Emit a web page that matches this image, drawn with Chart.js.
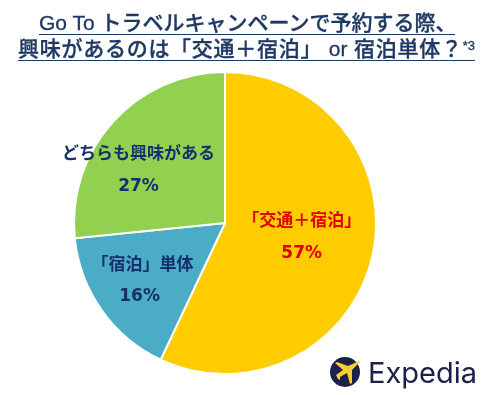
<!DOCTYPE html>
<html lang="ja">
<head>
<meta charset="utf-8">
<script src="https://cdn.jsdelivr.net/npm/chart.js@4"></script>
<style>
  html, body { margin: 0; padding: 0; background: #fff; }
  #wrap { position: relative; width: 493px; height: 395px; overflow: hidden; }
  #pie { position: absolute; left: 0; top: 0; }
  .title {
    position: absolute; white-space: nowrap; color: #1f3864;
    font: 500 21px "Liberation Sans", "Noto Sans CJK JP", sans-serif; line-height: 23px;
    border-bottom: 1px solid #1f3864; text-align-last: justify;
    -webkit-text-stroke: 0.3px #1f3864;
  }
  #title1 { left: 39px; top: 11px; width: 416px; }
  #title2 { left: 18px; top: 37px; width: 457px; }
  #title2 sup { font-size: 13px; line-height: 0; vertical-align: 6px; }
  #logo { position: absolute; left: 328px; top: 354px; }
</style>
</head>
<body>
<div id="wrap">
  <canvas id="pie" width="493" height="395"></canvas>
  <div class="title" id="title1">Go To トラベルキャンペーンで予約する際、</div>
  <div class="title" id="title2">興味があるのは「交通＋宿泊」 or 宿泊単体？<sup>*3</sup></div>
  <svg id="logo" width="160" height="38" viewBox="0 0 160 38">
    <circle cx="17" cy="18" r="15" fill="#1b2149"/>
    <path d="M7 9 L9 8 L20 12 L31 7 L32 8 L24 16 L24 29 L22 30 L19 19 L12 23 L12 26 L10 25 L8 21 L15 16 Z" fill="#fbcc33"/>
    <text x="40" y="29" font-family="Inter, sans-serif" font-size="29" fill="#1b2149">Expedia</text>
  </svg>
</div>
<script>
const categories = ["「交通＋宿泊」", "「宿泊」単体", "どちらも興味がある"];
const seriesValues = [57, 16.4, 26.6];
const percentLabels = ["57%", "16%", "27%"];
const sliceColors = ["#ffcc00", "#4bacc6", "#92d050"];
const labelColors = ["#e00000", "#17306b", "#17306b"];
const labelOffsets = [[3, -20], [-6, -14], [-17, -8]]; // px from the spot picked below
const percentOffsets = [0, -3, 0];

// writes category + percent inside each slice
const sliceLabels = {
  id: "sliceLabels",
  afterDatasetsDraw(chart) {
    const ctx = chart.ctx;
    const arcs = chart.getDatasetMeta(0).data;
    const spots = [0.5, 0.62, 0.62];
    ctx.save();
    ctx.textAlign = "center";
    ctx.textBaseline = "middle";
    arcs.forEach((arc, i) => {
      const mid = (arc.startAngle + arc.endAngle) / 2;
      const r = arc.outerRadius * spots[i];
      const x = arc.x + Math.cos(mid) * r + labelOffsets[i][0];
      const y = arc.y + Math.sin(mid) * r + labelOffsets[i][1];
      ctx.fillStyle = labelColors[i];
      ctx.font = 'bold 17px "Noto Sans CJK JP", sans-serif';
      ctx.fillText(categories[i], x, y);
      ctx.font = 'bold 17px "DejaVu Sans", sans-serif';
      ctx.fillText(percentLabels[i], x + percentOffsets[i], y + 34);
    });
    ctx.restore();
  }
};

new Chart(document.getElementById("pie").getContext("2d"), {
  type: "pie",
  data: {
    labels: categories,
    datasets: [{
      data: seriesValues,
      backgroundColor: sliceColors,
      borderColor: "#ffffff",
      borderWidth: 2,
    }],
  },
  options: {
    responsive: false,
    animation: false,
    layout: { padding: { top: 71, bottom: 20, left: 73, right: 116 } },
    plugins: { legend: { display: false }, tooltip: { enabled: false } },
  },
  plugins: [sliceLabels],
});
</script>
</body>
</html>
